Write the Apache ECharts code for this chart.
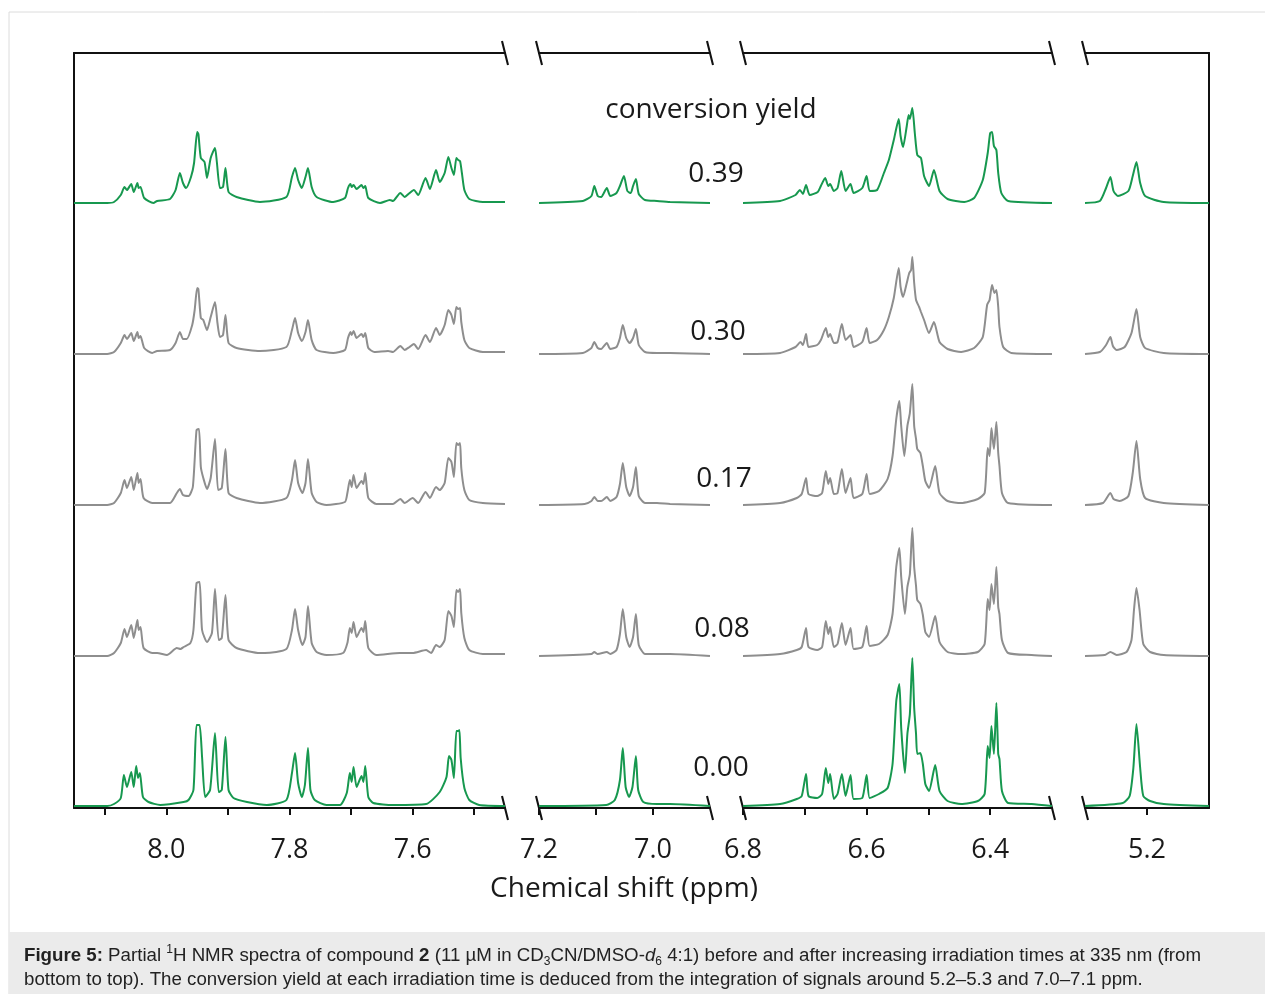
<!DOCTYPE html>
<html>
<head>
<meta charset="utf-8">
<script src="https://cdn.jsdelivr.net/npm/echarts@6/dist/echarts.min.js"></script>
<style>
  html, body { margin: 0; padding: 0; background: #fff; }
  #chart { width: 1265px; height: 994px; }
</style>
</head>
<body>
<div id="chart"></div>
<script>
// conversion yields, bottom to top
const yields = ['0.00', '0.08', '0.17', '0.30', '0.39'];
const baselines = [2, 152, 303, 454, 605];

// axis segments (ppm), high to low
const segMax = [8.15, 7.2, 6.8, 5.3];
const segMin = [7.45, 6.9, 6.3, 5.1];
const segTicks = [
  [8.1, 8.0, 7.9, 7.8, 7.7, 7.6, 7.5],
  [7.2, 7.1, 7.0],
  [6.8, 6.7, 6.6, 6.5, 6.4],
  [5.2]
];
const segLabels = [
  [8.0, 7.8, 7.6],
  [7.2, 7.0],
  [6.8, 6.6, 6.4],
  [5.2]
];

// spectra [ppm, height]
const spec000 = [
  [8.150,0],[8.096,0],[8.085,2],[8.074,8],[8.069,31],[8.064,19],[8.057,34],[8.053,19],[8.049,40],[8.046,28],[8.043,33],[8.038,9],[8.029,4],[8.010,1],[7.972,4],[7.964,6],[7.956,16],[7.951,81],[7.946,81],[7.942,49],[7.937,9],[7.929,16],[7.921,73],[7.915,14],[7.910,16],[7.904,69],[7.899,16],[7.891,8],[7.869,4],[7.837,1],[7.805,6],[7.796,33],[7.791,53],[7.786,23],[7.780,9],[7.775,21],[7.770,58],[7.766,16],[7.759,6],[7.740,1],[7.718,1],[7.707,13],[7.702,33],[7.699,24],[7.696,39],[7.691,19],[7.683,30],[7.680,24],[7.677,40],[7.672,9],[7.664,3],[7.632,1],[7.578,2],[7.556,14],[7.545,29],[7.541,50],[7.537,46],[7.533,28],[7.529,75],[7.526,75],[7.524,76],[7.522,48],[7.516,18],[7.508,6],[7.492,1],[7.450,0],
  [7.200,0],[7.082,1],[7.067,6],[7.058,26],[7.053,58],[7.048,19],[7.042,9],[7.036,19],[7.030,50],[7.026,16],[7.017,4],[6.993,2],[6.970,2],[6.900,0],
  [6.800,0],[6.740,2],[6.713,7],[6.705,10],[6.698,32],[6.694,10],[6.680,8],[6.672,12],[6.666,38],[6.662,23],[6.659,32],[6.653,7],[6.647,12],[6.640,32],[6.634,10],[6.626,31],[6.621,7],[6.607,8],[6.600,31],[6.595,8],[6.580,12],[6.566,18],[6.558,42],[6.552,105],[6.547,122],[6.544,78],[6.538,33],[6.534,72],[6.530,92],[6.526,148],[6.523,98],[6.520,72],[6.518,52],[6.513,53],[6.509,42],[6.505,22],[6.499,15],[6.489,41],[6.482,15],[6.469,5],[6.447,2],[6.420,5],[6.409,12],[6.404,60],[6.401,48],[6.398,80],[6.394,52],[6.390,103],[6.387,52],[6.385,47],[6.381,15],[6.371,3],[6.333,2],[6.300,0],
  [5.300,0],[5.239,3],[5.228,10],[5.222,38],[5.217,82],[5.211,38],[5.206,10],[5.195,5],[5.173,2],[5.100,0]
];
const spec008 = [
  [8.150,0],[8.096,0],[8.085,3],[8.074,13],[8.068,27],[8.064,19],[8.057,31],[8.053,18],[8.047,36],[8.045,26],[8.042,29],[8.037,8],[8.023,3],[8.015,3],[7.999,1],[7.983,8],[7.977,7],[7.972,9],[7.961,13],[7.956,26],[7.951,73],[7.946,74],[7.942,26],[7.934,14],[7.926,23],[7.921,67],[7.915,16],[7.910,18],[7.904,61],[7.899,16],[7.886,8],[7.848,3],[7.840,3],[7.805,7],[7.796,26],[7.791,47],[7.786,26],[7.779,11],[7.774,19],[7.770,50],[7.764,13],[7.756,4],[7.740,1],[7.713,3],[7.706,13],[7.702,28],[7.699,23],[7.696,34],[7.691,19],[7.683,28],[7.680,24],[7.677,35],[7.672,8],[7.659,1],[7.621,3],[7.600,3],[7.578,6],[7.570,3],[7.562,11],[7.556,9],[7.548,16],[7.542,45],[7.537,40],[7.533,29],[7.529,66],[7.526,64],[7.523,67],[7.521,43],[7.516,18],[7.508,6],[7.486,2],[7.450,2],
  [7.200,0],[7.108,2],[7.103,4],[7.097,2],[7.081,4],[7.075,2],[7.064,6],[7.058,22],[7.053,47],[7.047,19],[7.041,9],[7.035,19],[7.030,42],[7.025,11],[7.014,2],[6.993,2],[6.970,2],[6.900,0],
  [6.800,0],[6.740,2],[6.713,6],[6.705,9],[6.698,28],[6.694,9],[6.680,6],[6.672,9],[6.666,35],[6.662,22],[6.659,29],[6.653,9],[6.647,12],[6.640,33],[6.634,11],[6.626,28],[6.621,7],[6.607,9],[6.600,30],[6.595,10],[6.580,12],[6.566,21],[6.558,42],[6.552,89],[6.547,108],[6.544,79],[6.538,42],[6.534,69],[6.530,82],[6.526,128],[6.523,89],[6.520,70],[6.518,56],[6.513,52],[6.509,41],[6.505,24],[6.499,19],[6.489,40],[6.482,14],[6.469,4],[6.447,2],[6.420,4],[6.409,12],[6.404,57],[6.401,46],[6.398,72],[6.394,52],[6.390,89],[6.387,49],[6.385,42],[6.381,16],[6.371,3],[6.333,1],[6.300,0],
  [5.300,0],[5.268,1],[5.259,4],[5.249,1],[5.233,4],[5.225,16],[5.221,46],[5.217,68],[5.212,46],[5.206,12],[5.195,4],[5.173,1],[5.100,0]
];
const spec017 = [
  [8.150,0],[8.096,0],[8.085,2],[8.074,12],[8.068,25],[8.064,17],[8.057,28],[8.053,15],[8.047,32],[8.045,22],[8.042,26],[8.037,7],[8.023,2],[8.015,2],[7.994,2],[7.983,12],[7.978,16],[7.973,10],[7.964,9],[7.957,18],[7.951,75],[7.947,76],[7.944,38],[7.940,27],[7.934,16],[7.928,27],[7.921,66],[7.916,15],[7.910,17],[7.904,56],[7.899,12],[7.886,7],[7.848,2],[7.805,7],[7.796,25],[7.791,45],[7.786,22],[7.779,12],[7.774,22],[7.770,46],[7.764,12],[7.756,3],[7.740,0],[7.710,3],[7.706,12],[7.702,25],[7.699,18],[7.696,30],[7.691,17],[7.683,24],[7.680,21],[7.677,32],[7.672,7],[7.659,1],[7.632,1],[7.620,6],[7.613,2],[7.600,7],[7.591,2],[7.579,13],[7.572,7],[7.562,18],[7.556,15],[7.548,22],[7.542,47],[7.537,43],[7.533,28],[7.529,62],[7.526,60],[7.523,62],[7.521,37],[7.516,15],[7.508,5],[7.486,2],[7.450,1],
  [7.200,0],[7.120,1],[7.108,4],[7.103,8],[7.097,4],[7.091,4],[7.081,8],[7.075,4],[7.064,8],[7.058,21],[7.053,42],[7.047,18],[7.041,9],[7.035,18],[7.030,38],[7.025,9],[7.014,2],[6.993,2],[6.970,1],[6.900,0],
  [6.800,0],[6.740,2],[6.713,7],[6.705,11],[6.698,27],[6.694,11],[6.680,9],[6.672,12],[6.666,34],[6.662,21],[6.659,27],[6.653,11],[6.647,12],[6.640,36],[6.634,12],[6.626,27],[6.621,7],[6.607,11],[6.600,31],[6.595,11],[6.580,14],[6.566,26],[6.558,49],[6.552,86],[6.547,104],[6.544,79],[6.539,49],[6.534,79],[6.530,92],[6.526,121],[6.523,79],[6.520,66],[6.518,56],[6.513,52],[6.509,39],[6.505,24],[6.499,17],[6.489,39],[6.482,12],[6.469,4],[6.447,2],[6.420,6],[6.409,12],[6.404,57],[6.401,49],[6.398,77],[6.394,56],[6.390,83],[6.387,52],[6.385,39],[6.381,12],[6.371,2],[6.300,0],
  [5.300,0],[5.271,2],[5.259,12],[5.254,6],[5.244,4],[5.230,9],[5.223,32],[5.217,64],[5.211,26],[5.203,7],[5.173,2],[5.100,0]
];
const spec030 = [
  [8.150,0],[8.096,0],[8.085,2],[8.074,11],[8.068,19],[8.064,15],[8.057,21],[8.053,13],[8.047,22],[8.045,16],[8.042,18],[8.036,6],[8.023,1],[8.015,3],[7.994,4],[7.985,11],[7.978,22],[7.973,15],[7.967,15],[7.958,29],[7.954,44],[7.950,66],[7.948,65],[7.944,36],[7.940,34],[7.934,24],[7.928,37],[7.921,52],[7.917,31],[7.913,17],[7.908,19],[7.904,39],[7.899,11],[7.886,6],[7.848,3],[7.805,7],[7.796,24],[7.791,36],[7.786,21],[7.780,13],[7.774,22],[7.770,34],[7.764,14],[7.756,4],[7.729,1],[7.710,4],[7.705,16],[7.701,22],[7.699,19],[7.696,23],[7.691,16],[7.683,20],[7.680,17],[7.677,21],[7.672,6],[7.662,2],[7.640,3],[7.632,2],[7.620,8],[7.613,4],[7.605,7],[7.598,10],[7.591,5],[7.579,19],[7.572,12],[7.562,26],[7.556,19],[7.548,29],[7.542,44],[7.537,39],[7.533,30],[7.529,47],[7.526,45],[7.523,46],[7.521,32],[7.516,14],[7.508,6],[7.486,2],[7.450,2],
  [7.200,0],[7.123,1],[7.108,6],[7.103,12],[7.097,6],[7.091,5],[7.081,11],[7.075,5],[7.064,7],[7.058,16],[7.053,29],[7.047,16],[7.041,11],[7.035,16],[7.030,25],[7.025,9],[7.014,2],[6.993,1],[6.970,1],[6.900,0],
  [6.800,0],[6.740,1],[6.715,7],[6.707,12],[6.703,9],[6.698,20],[6.694,7],[6.680,9],[6.674,14],[6.666,26],[6.662,17],[6.659,20],[6.653,11],[6.647,12],[6.640,30],[6.634,14],[6.626,19],[6.621,7],[6.607,12],[6.600,26],[6.595,11],[6.583,14],[6.572,24],[6.564,37],[6.556,56],[6.548,86],[6.545,67],[6.541,57],[6.535,71],[6.531,81],[6.528,84],[6.526,97],[6.523,71],[6.520,54],[6.515,47],[6.512,42],[6.507,34],[6.499,21],[6.491,32],[6.482,12],[6.469,5],[6.447,2],[6.426,6],[6.412,17],[6.405,49],[6.401,54],[6.397,69],[6.393,61],[6.390,64],[6.387,47],[6.385,27],[6.379,7],[6.366,1],[6.300,0],
  [5.300,0],[5.276,2],[5.266,9],[5.259,17],[5.255,8],[5.249,4],[5.236,7],[5.225,21],[5.217,45],[5.211,17],[5.203,6],[5.173,1],[5.100,0]
];
const spec039 = [
  [8.150,0],[8.096,0],[8.085,1],[8.074,8],[8.068,16],[8.064,13],[8.057,19],[8.053,11],[8.047,20],[8.045,15],[8.042,16],[8.036,5],[8.021,0],[8.015,2],[7.994,4],[7.985,13],[7.978,30],[7.973,20],[7.968,15],[7.960,26],[7.955,40],[7.950,71],[7.948,69],[7.944,45],[7.938,41],[7.934,25],[7.928,45],[7.921,55],[7.918,41],[7.913,15],[7.908,16],[7.904,35],[7.899,11],[7.886,6],[7.848,1],[7.805,6],[7.796,26],[7.791,35],[7.786,23],[7.780,15],[7.774,26],[7.770,35],[7.764,16],[7.756,6],[7.729,1],[7.710,5],[7.705,15],[7.701,19],[7.699,16],[7.696,18],[7.691,14],[7.683,18],[7.680,15],[7.677,17],[7.672,5],[7.653,0],[7.637,3],[7.632,2],[7.620,10],[7.613,6],[7.605,10],[7.598,13],[7.591,8],[7.579,25],[7.572,14],[7.562,33],[7.556,21],[7.548,30],[7.542,46],[7.537,35],[7.533,28],[7.529,45],[7.526,43],[7.523,42],[7.520,30],[7.516,13],[7.508,4],[7.486,1],[7.450,1],
  [7.200,0],[7.123,2],[7.108,7],[7.103,17],[7.097,7],[7.091,6],[7.081,15],[7.075,7],[7.064,10],[7.058,17],[7.051,27],[7.045,12],[7.039,10],[7.035,17],[7.030,24],[7.025,9],[7.014,3],[6.993,2],[6.970,1],[6.900,0],
  [6.800,0],[6.740,2],[6.715,8],[6.708,13],[6.703,9],[6.698,18],[6.692,8],[6.679,11],[6.674,17],[6.667,25],[6.662,17],[6.659,19],[6.653,12],[6.647,15],[6.641,32],[6.634,12],[6.626,19],[6.621,10],[6.607,15],[6.600,27],[6.595,12],[6.583,13],[6.572,30],[6.564,43],[6.556,63],[6.548,84],[6.545,67],[6.541,56],[6.535,77],[6.532,88],[6.530,84],[6.526,95],[6.522,70],[6.518,48],[6.512,45],[6.507,27],[6.499,17],[6.491,33],[6.482,12],[6.469,4],[6.442,1],[6.426,5],[6.412,23],[6.404,50],[6.400,70],[6.397,71],[6.394,57],[6.390,53],[6.387,30],[6.382,10],[6.371,2],[6.300,0],
  [5.300,0],[5.276,2],[5.266,15],[5.259,26],[5.254,12],[5.247,7],[5.230,12],[5.223,27],[5.217,41],[5.211,20],[5.203,7],[5.173,1],[5.100,0]
];
const spectra = [spec000, spec008, spec017, spec030, spec039];
const colors = ['#17984f', '#8e8e8e', '#8e8e8e', '#8e8e8e', '#17984f'];

// layout
const plotTop = 53, plotHeight = 755;
const segLeft = [74, 539, 743, 1085];
const segWidth = [431, 171, 309, 124];
const yieldPos = [[721, 768], [722, 629], [724, 479], [718, 332], [716, 174]];
const font = "'Open Sans', 'DejaVu Sans', sans-serif";

const chart = echarts.init(document.getElementById('chart'));

const grid = [], xAxis = [], yAxis = [], series = [];
segMax.forEach((mx, g) => {
  grid.push({ left: segLeft[g], width: segWidth[g], top: plotTop, height: plotHeight });
  xAxis.push({
    type: 'value', gridIndex: g, min: segMin[g], max: mx, inverse: true, position: 'bottom',
    axisLine: { show: true, onZero: false, lineStyle: { color: '#111', width: 2 } },
    axisTick: { show: true, customValues: segTicks[g], length: 7, lineStyle: { color: '#111', width: 2 } },
    axisLabel: {
      show: true, customValues: segLabels[g], margin: 29,
      formatter: v => v.toFixed(1), fontSize: 27, fontFamily: font, color: '#1a1a1a'
    },
    splitLine: { show: false }
  });
  yAxis.push({
    type: 'value', gridIndex: g, min: 0, max: plotHeight,
    show: g === 0 || g === 3, position: g === 3 ? 'right' : 'left',
    axisLine: { show: true, lineStyle: { color: '#111', width: 2 } },
    axisTick: { show: false }, axisLabel: { show: false }, splitLine: { show: false }
  });
});
// top frame lines
segMax.forEach((mx, g) => {
  xAxis.push({
    type: 'value', gridIndex: g, min: segMin[g], max: mx, inverse: true, position: 'top',
    axisLine: { show: true, onZero: false, lineStyle: { color: '#111', width: 2 } },
    axisTick: { show: false }, axisLabel: { show: false }, splitLine: { show: false }
  });
});

spectra.forEach((sp, i) => {
  segMax.forEach((mx, g) => {
    const pts = sp.filter(p => p[0] <= mx + 1e-6 && p[0] >= segMin[g] - 1e-6)
      .map(p => [p[0], p[1] + baselines[i]]);
    series.push({
      type: 'line', xAxisIndex: g, yAxisIndex: g, data: pts,
      showSymbol: false, symbol: 'none', silent: true, smooth: 0.2,
      lineStyle: { color: colors[i], width: 2 }
    });
  });
});

// break marks on the frame
const graphic = [];
const yTop = plotTop, yBot = plotTop + plotHeight;
segMax.forEach((mx, g) => {
  const ends = [];
  if (g > 0) ends.push(segLeft[g]);
  if (g < 3) ends.push(segLeft[g] + segWidth[g]);
  ends.forEach(x => {
    [yTop, yBot].forEach(y => {
      graphic.push({
        type: 'line', silent: true,
        shape: { x1: x - 3, y1: y - 12, x2: x + 3, y2: y + 12 },
        style: { stroke: '#111', lineWidth: 2 }
      });
    });
  });
});

// figure border and caption box
graphic.push({
  type: 'rect', z: -10, silent: true,
  shape: { x: 9, y: 12, width: 1270, height: 990 },
  style: { fill: 'none', stroke: '#dcdcdc', lineWidth: 1 }
});
graphic.push({
  type: 'rect', z: -9, silent: true,
  shape: { x: 9, y: 932, width: 1260, height: 70 },
  style: { fill: '#ebebeb' }
});

graphic.push({
  type: 'text', silent: true,
  style: { x: 711, y: 110, text: 'conversion yield', font: `28px ${font}`, fill: '#1a1a1a', align: 'center', verticalAlign: 'middle' }
});
yields.forEach((t, i) => {
  graphic.push({
    type: 'text', silent: true,
    style: { x: yieldPos[i][0], y: yieldPos[i][1], text: t, font: `28px ${font}`, fill: '#1a1a1a', align: 'center', verticalAlign: 'middle' }
  });
});
graphic.push({
  type: 'text', silent: true,
  style: { x: 624, y: 889, text: 'Chemical shift (ppm)', font: `28px ${font}`, fill: '#1a1a1a', align: 'center', verticalAlign: 'middle' }
});

const capFont = "'Liberation Sans', Arial, sans-serif";
const capSize = 18.7;
const capRich = {
  b: { fontWeight: 'bold', fontSize: capSize, fontFamily: capFont, fill: '#222', lineHeight: 24 },
  i: { fontStyle: 'italic', fontSize: capSize, fontFamily: capFont, fill: '#222', lineHeight: 24 },
  sup: { fontSize: 12, fontFamily: capFont, fill: '#222', lineHeight: 14, verticalAlign: 'top' },
  sub: { fontSize: 12, fontFamily: capFont, fill: '#222', lineHeight: 14, verticalAlign: 'bottom' }
};
graphic.push({
  type: 'text', silent: true,
  style: {
    x: 24, y: 944,
    text: '{b|Figure 5:} Partial {sup|1}H NMR spectra of compound {b|2} (11 µM in CD{sub|3}CN/DMSO-{i|d}{sub|6} 4:1) before and after increasing irradiation times at 335 nm (from',
    fontSize: capSize, fontFamily: capFont, fill: '#222', lineHeight: 24, rich: capRich
  }
});
graphic.push({
  type: 'text', silent: true,
  style: {
    x: 24, y: 968,
    text: 'bottom to top). The conversion yield at each irradiation time is deduced from the integration of signals around 5.2–5.3 and 7.0–7.1 ppm.',
    fontSize: capSize, fontFamily: capFont, fill: '#222', lineHeight: 24
  }
});

chart.setOption({
  animation: false,
  backgroundColor: '#fff',
  grid, xAxis, yAxis, series, graphic
});
</script>
</body>
</html>
